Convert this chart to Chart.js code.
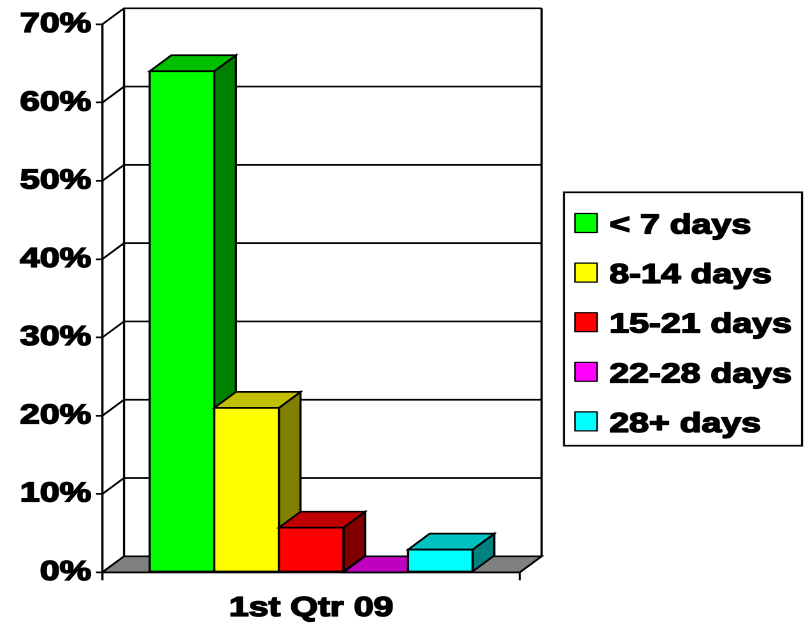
<!DOCTYPE html>
<html>
<head>
<meta charset="utf-8">
<script src="https://cdn.jsdelivr.net/npm/chart.js@4/dist/chart.umd.min.js"></script>
<style>
  html, body { margin: 0; padding: 0; background: #fff; overflow: hidden; }
  /* the whole figure is drawn slightly condensed and widened to the page */
  #chart { display: block; transform: scaleX(1.2744); transform-origin: 0 0; }
</style>
</head>
<body>
<canvas id="chart" width="634" height="628"></canvas>
<script>
// ---- data ----
const categories = ['1st Qtr 09'];
const seriesNames = ['< 7 days', '8-14 days', '15-21 days', '22-28 days', '28+ days'];
const lessThan7 = [64];
const days8to14 = [21];
const days15to21 = [5.7];
const days22to28 = [0];
const days28plus = [2.9];
const tickValues = [0, 10, 20, 30, 40, 50, 60, 70];

// ---- styles ----
const frontColors = ['#00FF00', '#FFFF00', '#FF0000', '#FF00FF', '#00FFFF'];
const topColors   = ['#00C000', '#C0C000', '#C00000', '#C000C0', '#00C0C0'];
const sideColors  = ['#008000', '#808000', '#800000', '#800080', '#008080'];
const FONT = "'Liberation Sans', Arial, Helvetica, sans-serif";
const DX = 17, DY = -16;      // depth of the 3-D box
const LINE = 1.7;
const TEXT_STROKE = 1.3;      // extra weight on the bold labels

function poly(ctx, pts, fill) {
  ctx.beginPath();
  ctx.moveTo(pts[0][0], pts[0][1]);
  for (let i = 1; i < pts.length; i++) ctx.lineTo(pts[i][0], pts[i][1]);
  ctx.closePath();
  if (fill) { ctx.fillStyle = fill; ctx.fill(); }
  ctx.stroke();
}

// walls, floor and the extruded bar faces
const box3d = {
  id: 'box3d',
  beforeDatasetsDraw(chart) {
    const { ctx, chartArea: a, scales: { y } } = chart;
    const top = y.getPixelForValue(y.max);
    const bot = y.getPixelForValue(y.min);
    ctx.save();
    ctx.strokeStyle = '#000';
    ctx.lineWidth = LINE;
    ctx.lineJoin = 'miter';
    y.ticks.forEach(t => {
      const py = y.getPixelForValue(t.value);
      ctx.beginPath();
      ctx.moveTo(a.left, py);
      ctx.lineTo(a.left + DX, py + DY);
      ctx.lineTo(a.right + DX, py + DY);
      ctx.stroke();
    });
    ctx.beginPath();
    ctx.moveTo(a.left + DX, top + DY);  ctx.lineTo(a.left + DX, bot + DY);
    ctx.moveTo(a.right + DX, top + DY); ctx.lineTo(a.right + DX, bot + DY);
    ctx.stroke();
    poly(ctx, [[a.left, bot], [a.right, bot], [a.right + DX, bot + DY], [a.left + DX, bot + DY]], '#808080');
    ctx.restore();
  },
  afterDatasetsDraw(chart) {
    const ctx = chart.ctx;
    ctx.save();
    ctx.strokeStyle = '#000';
    ctx.lineWidth = LINE;
    ctx.lineJoin = 'miter';
    chart.data.datasets.forEach((ds, i) => {
      chart.getDatasetMeta(i).data.forEach(bar => {
        const { x, y, base, width } = bar.getProps(['x', 'y', 'base', 'width'], true);
        const l = x - width / 2, r = x + width / 2;
        poly(ctx, [[r, y], [r + DX, y + DY], [r + DX, base + DY], [r, base]], sideColors[i]);
        poly(ctx, [[l, y], [r, y], [r + DX, y + DY], [l + DX, y + DY]], topColors[i]);
        poly(ctx, [[l, y], [r, y], [r, base], [l, base]], frontColors[i]);
      });
    });
    ctx.restore();
  },
  afterDraw(chart) {
    // boxed legend on the right
    const ctx = chart.ctx;
    const bx = 442.6, by = 192.3, bw = 186.7, bh = 253.4;
    const swX = 451.2, swW = 17.3, swH = 19, textX = 478.1, row0 = 223, step = 49.6;
    ctx.save();
    ctx.strokeStyle = '#000';
    ctx.lineWidth = LINE;
    ctx.strokeRect(bx, by, bw, bh);
    ctx.font = `bold 28px ${FONT}`;
    ctx.textAlign = 'left';
    ctx.textBaseline = 'alphabetic';
    ctx.lineJoin = 'round';
    chart.data.datasets.forEach((ds, i) => {
      const cy = row0 + i * step;
      ctx.fillStyle = ds.backgroundColor;
      ctx.fillRect(swX, cy - swH / 2, swW, swH);
      ctx.lineWidth = 1.2;
      ctx.strokeRect(swX, cy - swH / 2, swW, swH);
      ctx.fillStyle = '#000';
      ctx.lineWidth = TEXT_STROKE;
      ctx.strokeText(ds.label, textX, cy + 10.5);
      ctx.fillText(ds.label, textX, cy + 10.5);
    });
    ctx.restore();
  }
};

const seriesData = [lessThan7, days8to14, days15to21, days22to28, days28plus];
const labelFont = { family: FONT, size: 28, weight: 'bold' };

new Chart(document.getElementById('chart'), {
  type: 'bar',
  data: {
    labels: categories,
    datasets: seriesNames.map((name, i) => ({
      label: name,
      data: seriesData[i],
      backgroundColor: frontColors[i],
      borderColor: '#000',
      borderWidth: LINE,
      categoryPercentage: 0.7733,
      barPercentage: 1
    }))
  },
  options: {
    responsive: false,
    devicePixelRatio: 2,
    animation: false,
    events: [],
    layout: { padding: { top: 24.3, right: 226, bottom: 0, left: 0 } },
    plugins: {
      legend: { display: false },
      tooltip: { enabled: false }
    },
    scales: {
      x: {
        ticks: { color: '#000', font: labelFont, padding: 11,
                 textStrokeColor: '#000', textStrokeWidth: TEXT_STROKE },
        grid: { offset: true, drawOnChartArea: false, tickLength: 8, color: '#000', lineWidth: LINE },
        border: { display: true, color: '#000', width: LINE },
        afterFit(scale) { scale.height = 55.7; }
      },
      y: {
        min: 0,
        max: 70,
        afterBuildTicks(scale) { scale.ticks = tickValues.map(v => ({ value: v })); },
        ticks: {
          color: '#000',
          font: labelFont,
          padding: 3.6,
          textStrokeColor: '#000',
          textStrokeWidth: TEXT_STROKE,
          callback: v => v + '%'
        },
        grid: { drawOnChartArea: false, tickLength: 5, color: '#000', lineWidth: LINE },
        border: { display: true, color: '#000', width: LINE },
        afterFit(scale) { scale.width = 80.3; }
      }
    }
  },
  plugins: [box3d]
});
</script>
</body>
</html>
